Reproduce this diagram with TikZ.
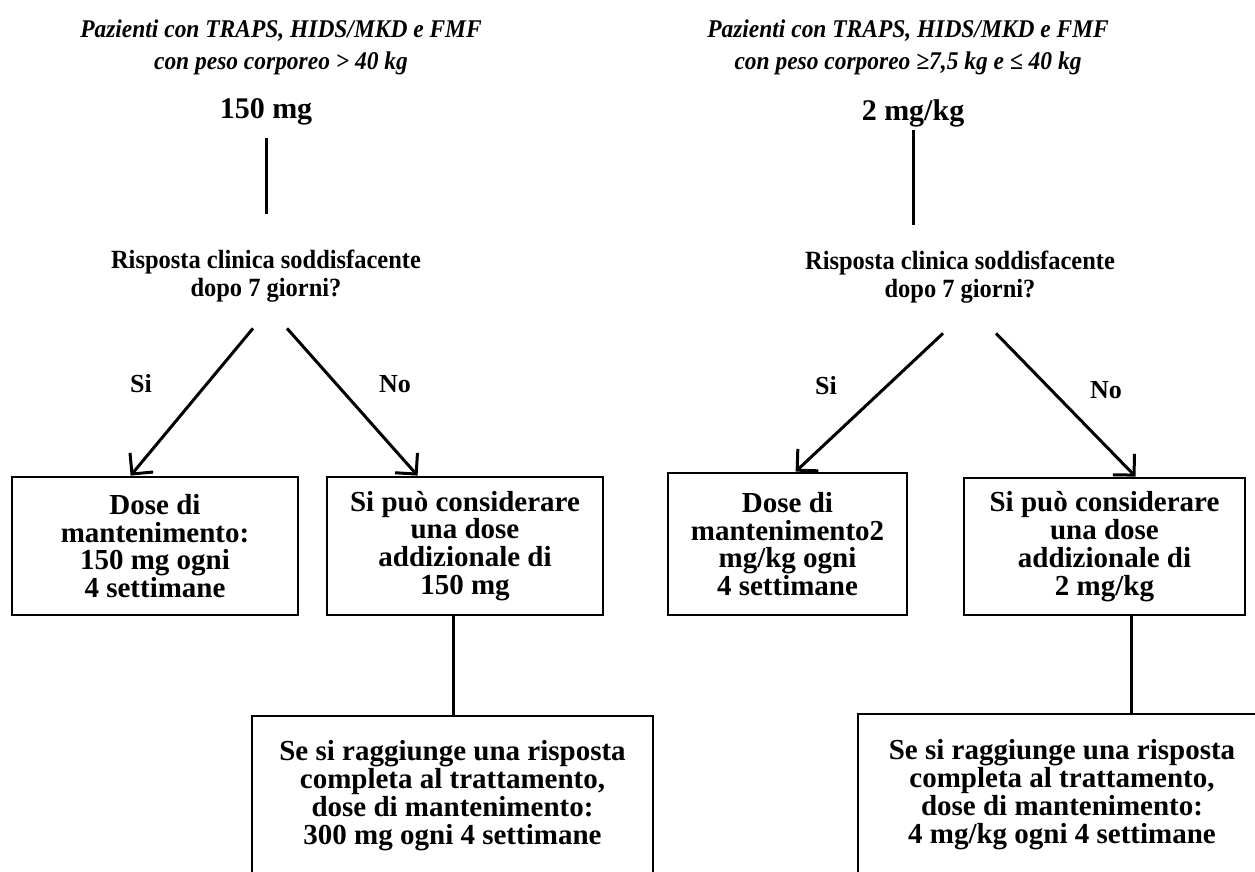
\documentclass[tikz,border=0pt]{standalone}
\usepackage{fontspec}
\setmainfont{Liberation Serif}
\newfontfamily\hdrfamily{Liberation Serif}[FakeStretch=0.92]
\newfontfamily\qfamily{Liberation Serif}[FakeStretch=0.93]
\usetikzlibrary{arrows.meta,calc}

\tikzset{
  hdr/.style={font=\hdrfamily\bfseries\itshape\fontsize{25.5}{32}\selectfont, align=center, inner sep=0pt},
  dosetxt/.style={font=\bfseries\fontsize{30}{32}\selectfont, inner sep=0pt},
  quest/.style={font=\qfamily\bfseries\fontsize{26.3}{28}\selectfont, align=center, inner sep=0pt},
  lbl/.style={font=\bfseries\fontsize{26}{28}\selectfont, inner sep=0pt},
  box/.style={draw, line width=2.8pt, align=center,
    font=\bfseries\fontsize{29}{27.8}\selectfont, inner sep=0pt},
  link/.style={line width=3pt},
  arr/.style={line width=3pt, -{Straight Barb[length=15pt,width=30pt]}},
}

\begin{document}
\begin{tikzpicture}[x=1pt,y=-1pt]
\useasboundingbox (0,0) rectangle (1255,871);
\clip (0,0) rectangle (1255,871);

% ---------- left branch: body weight above 40 kg ----------
\node[hdr] (hL) at (281,47) {Pazienti con TRAPS, HIDS/MKD e FMF\\con peso corporeo > 40 kg};
\node[dosetxt] (dL) at (266,112) {150 mg};
\node[quest] (qL) at (266,276) {Risposta clinica soddisfacente\\dopo 7 giorni?};
\node[lbl] (siL) at (141,384) {Si};
\node[lbl] (noL) at (395,384) {No};
\node[box, minimum width=286pt, minimum height=138pt] (mL) at (155,546)
  {Dose di\\mantenimento:\\150 mg ogni\\4 settimane};
\node[box, minimum width=276pt, minimum height=138pt] (aL) at (465,546)
  {Si può considerare\\una dose\\addizionale di\\150 mg};
\node[box, minimum width=401pt, minimum height=159pt] (cL) at (452.5,795.5)
  {Se si raggiunge una risposta\\completa al trattamento,\\dose di mantenimento:\\300 mg ogni 4 settimane};

\draw[link, shorten <=13pt, shorten >=36pt] (dL.south) -- (dL.south |- qL.north);
\draw[arr] ($(qL.south)+(-13,26)$) -- ($(mL.north west)+(120,0)$);
\draw[arr] ($(qL.south)+(21,26)$) -- ($(aL.north west)+(92,0)$);
\draw[link] ($(aL.south west)+(128,0)$) -- ($(cL.north west)+(203,0)$);

% ---------- right branch: body weight from 7,5 to 40 kg ----------
\node[hdr] (hR) at (908,47) {Pazienti con TRAPS, HIDS/MKD e FMF\\con peso corporeo ≥7,5 kg e ≤ 40 kg};
\node[dosetxt] (dR) at (913,113) {2 mg/kg};
\node[quest] (qR) at (960,277) {Risposta clinica soddisfacente\\dopo 7 giorni?};
\node[lbl] (siR) at (826,386) {Si};
\node[lbl] (noR) at (1106,390) {No};
\node[box, minimum width=239pt, minimum height=142pt] (mR) at (787.5,544)
  {Dose di\\mantenimento2\\mg/kg ogni\\4 settimane};
\node[box, minimum width=281pt, minimum height=137pt] (aR) at (1104.5,546.5)
  {Si può considerare\\una dose\\addizionale di\\2 mg/kg};
\node[box, minimum width=408pt, minimum height=161pt] (cR) at (1062,794.5)
  {Se si raggiunge una risposta\\completa al trattamento,\\dose di mantenimento:\\4 mg/kg ogni 4 settimane};

\draw[link, shorten <=3pt, shorten >=26pt] (dR.south) -- (dR.south |- qR.north);
\draw[arr] ($(qR.south)+(-17,30)$) -- ($(mR.north west)+(129,0)$);
\draw[arr] ($(qR.south)+(36,30)$) -- ($(aR.north west)+(173,0)$);
\draw[link] ($(aR.south west)+(169,0)$) -- ($(cR.north west)+(275,0)$);
\end{tikzpicture}
\end{document}
